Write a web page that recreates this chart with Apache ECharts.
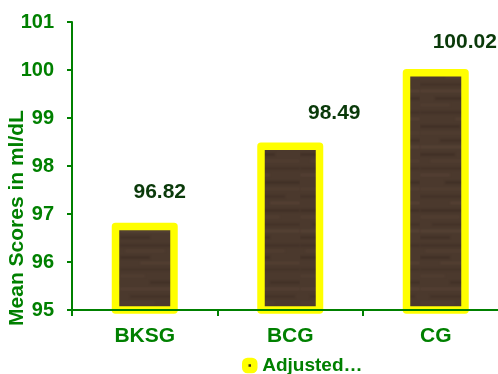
<!DOCTYPE html>
<html>
<head>
<meta charset="utf-8">
<script src="https://cdn.jsdelivr.net/npm/echarts@6/dist/echarts.min.js"></script>
<style>
  html, body { margin: 0; padding: 0; background: #fff; }
  #chart { width: 498px; height: 374px; }
</style>
</head>
<body>
<div id="chart"></div>
<script>
// Chart data
const categories = ['BKSG', 'BCG', 'CG'];
const seriesName = 'Adjusted…';
const meanScores = [96.82, 98.49, 100.02];
const yTicks = [95, 96, 97, 98, 99, 100, 101];

// Label placement tweaks (pixels), one per bar
const labelOffsets = [[15, 0], [44, 1], [29, 4]];

const FONT = '"Liberation Sans", Arial, Helvetica, sans-serif';
const GREEN = '#008000';
const DARK_GREEN = '#0a3a0a';

// Dark wood-grain fill drawn on a small canvas and used as a pattern
function woodPattern() {
  const c = document.createElement('canvas');
  c.width = 60; c.height = 240;
  const g = c.getContext('2d');
  g.fillStyle = '#4b392d';
  g.fillRect(0, 0, c.width, c.height);
  // streaks: [y, height, x start, length, colour]
  const streaks = [
    [4, 3, 0, 60, '#433228'], [10, 2, 5, 40, '#533f32'], [16, 3, 0, 30, '#413026'],
    [22, 2, 20, 40, '#554134'], [28, 3, 0, 60, '#453429'], [35, 2, 0, 25, '#523f32'],
    [41, 3, 30, 30, '#423127'], [48, 2, 0, 60, '#564235'], [55, 3, 10, 45, '#443328'],
    [62, 2, 0, 35, '#513e31'], [69, 3, 0, 60, '#403026'], [76, 2, 25, 35, '#544033'],
    [83, 3, 0, 50, '#443328'], [90, 2, 0, 60, '#574336'], [97, 3, 15, 45, '#413026'],
    [104, 2, 0, 30, '#523f32'], [111, 3, 0, 60, '#433228'], [118, 2, 35, 25, '#554134'],
    [125, 3, 0, 40, '#413026'], [132, 2, 0, 60, '#513e31'], [139, 3, 20, 40, '#423127'],
    [146, 2, 0, 60, '#584437'], [153, 3, 0, 35, '#413026'], [160, 2, 10, 50, '#533f32'],
    [167, 3, 0, 60, '#443328'], [174, 2, 0, 30, '#564235'], [181, 3, 25, 35, '#403026'],
    [188, 2, 0, 60, '#523f32'], [195, 3, 0, 45, '#433228'], [202, 2, 30, 30, '#574336'],
    [209, 3, 0, 60, '#413026'], [216, 2, 0, 40, '#533f32'], [223, 3, 12, 48, '#443328'],
    [230, 2, 0, 60, '#584437'], [236, 3, 0, 30, '#423127']
  ];
  g.filter = 'blur(1px)';
  streaks.forEach(([y, h, x, w, col]) => {
    g.fillStyle = col;
    g.fillRect(x, y, w, h);
  });
  return c;
}

const chart = echarts.init(document.getElementById('chart'), null, { renderer: 'canvas' });

chart.setOption({
  backgroundColor: '#ffffff',
  animation: false,
  grid: { left: 72, right: -10.5, top: 22, bottom: 64, containLabel: false, outerBoundsMode: 'none' },
  legend: {
    data: [seriesName],
    left: 237,
    top: 351,
    icon: 'roundRect',
    itemWidth: 9,
    itemHeight: 9,
    itemGap: 10,
    itemStyle: { color: '#3a2a20', borderColor: '#ffff00', borderWidth: 6.5, borderJoin: 'round' },
    textStyle: { color: GREEN, fontFamily: FONT, fontWeight: 'bold', fontSize: 19, padding: [0, 0, 0, 3] }
  },
  xAxis: {
    type: 'category',
    data: categories,
    z: 10,
    axisLine: { lineStyle: { color: GREEN, width: 2 } },
    axisTick: { show: true, length: 6, lineStyle: { color: GREEN, width: 2 } },
    axisLabel: { color: GREEN, fontFamily: FONT, fontWeight: 'bold', fontSize: 21, margin: 16 }
  },
  yAxis: {
    type: 'value',
    min: yTicks[0],
    max: yTicks[yTicks.length - 1],
    interval: 1,
    z: 10,
    name: 'Mean Scores in ml/dL',
    nameLocation: 'middle',
    nameGap: 44,
    nameMoveOverlap: false,
    nameTextStyle: { color: GREEN, fontFamily: FONT, fontWeight: 'bold', fontSize: 21, padding: [0, 104, 0, 0] },
    axisLine: { show: true, lineStyle: { color: GREEN, width: 2 } },
    axisTick: { show: true, length: 5, lineStyle: { color: GREEN, width: 2 } },
    axisLabel: { color: GREEN, fontFamily: FONT, fontWeight: 'bold', fontSize: 20, margin: 18 },
    splitLine: { show: false }
  },
  series: [{
    name: seriesName,
    type: 'bar',
    barWidth: 66,
    data: meanScores.map((v, i) => ({
      value: v,
      label: { offset: labelOffsets[i] }
    })),
    itemStyle: {
      color: { image: woodPattern(), repeat: 'repeat' },
      borderColor: '#ffff00',
      borderWidth: 7.5,
      borderJoin: 'round'
    },
    label: {
      show: true,
      position: 'top',
      distance: 20,
      color: DARK_GREEN,
      fontFamily: FONT,
      fontWeight: 'bold',
      fontSize: 21,
      formatter: p => p.value.toFixed(2)
    }
  }]
});
</script>
</body>
</html>
